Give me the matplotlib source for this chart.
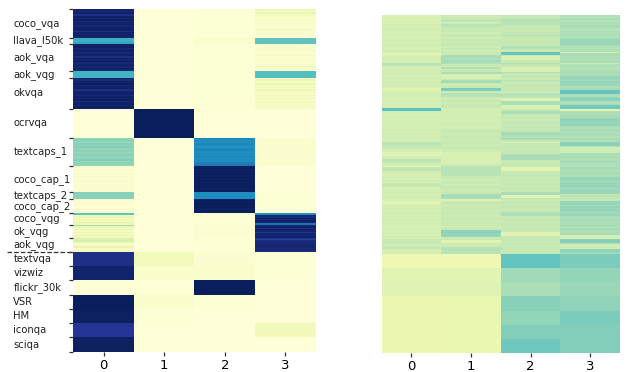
import numpy as np
import matplotlib
matplotlib.use('Agg')
import matplotlib.pyplot as plt
import matplotlib.transforms as mtransforms

# row groups (top: clustered samples, bottom: held-out tasks)
group_names = ['coco_vqa', 'llava_l50k', 'aok_vqa', 'aok_vqg', 'okvqa', 'ocrvqa', 'textcaps_1',
               'coco_cap_1', 'textcaps_2', 'coco_cap_2', 'coco_vqg', 'ok_vqg', 'aok_vqg',
               'textvqa', 'vizwiz', 'flickr_30k', 'VSR', 'HM', 'iconqa', 'sciqa']
group_sizes = [20, 4, 19, 5, 22, 20, 20, 18, 5, 10, 8, 9, 10, 10, 10, 10, 10, 10, 10, 10]
split_row = 170
experts = ['0', '1', '2', '3']

# left heatmap, values in percent, one list per column
left_0 = ([96, 93, 97, 90, 90, 97, 94, 98, 92, 96, 97, 93, 95, 98, 96, 91, 97, 95, 98, 96]
          + [52, 52, 52, 55]
          + [97, 95, 98, 92, 96, 97, 94, 98, 96, 91, 97, 95, 98, 93, 96, 97, 94, 98, 95]
          + [50] * 5
          + [96, 92, 97, 95, 98, 93, 96, 97, 91, 95, 98, 96, 93, 97, 95, 98, 92, 96, 97, 94, 98, 96]
          + [1] * 20
          + [34, 36, 35, 33, 36, 35, 37, 34, 35, 36, 33, 35, 36, 34, 35, 37, 33, 36, 35, 34]
          + [4, 3, 5, 3, 2, 4, 3, 5, 2, 3, 4, 2, 3, 5, 3, 2, 4, 3]
          + [36] * 5
          + [4, 3, 5, 3, 4, 2, 3, 5, 3, 4]
          + [44, 10, 14, 8, 12, 9, 15, 11]
          + [30, 14, 8, 14, 6, 14, 9, 14, 10]
          + [19, 18, 20, 12, 6, 10, 14, 8, 5, 9]
          + [90] * 10 + [96] * 10 + [2] * 10 + [99] * 10 + [98] * 10 + [87] * 10 + [98] * 10)
left_1 = ([1] * 20 + [1] * 4 + [1] * 19 + [1] * 5 + [1] * 22
          + [99] * 20
          + [0] * 20 + [1] * 18 + [0] * 5 + [1] * 10 + [1] * 8 + [0] * 9 + [1] * 10
          + [9] * 10 + [4] * 10 + [1] * 10 + [4] * 10 + [2] * 10 + [1] * 10 + [1] * 10)
left_2 = ([2] * 20 + [4] * 4 + [2] * 19 + [2] * 5 + [2] * 22 + [1] * 20
          + [66, 63, 64, 62, 65, 63, 62, 64, 66, 63, 62, 64, 63, 65, 62, 64, 63, 66, 68, 70]
          + [98, 99, 97, 99, 98, 99, 97, 98, 99, 98, 99, 97, 99, 98, 99, 98, 97, 99]
          + [63] * 5
          + [98, 99, 97, 99, 98, 99, 98, 97, 99, 98]
          + [2] * 8 + [3] * 9 + [2] * 10
          + [3] * 10 + [4] * 10 + [99] * 10 + [2] * 10 + [1] * 10 + [1] * 10 + [1] * 10)
left_3 = ([12, 8, 15, 5, 10, 6, 4, 8, 3, 5, 4, 6, 3, 5, 7, 4, 3, 5, 4, 3]
          + [44] * 4
          + [4, 3, 5, 3, 6, 4, 3, 5, 7, 4, 3, 6, 4, 3, 5, 4, 8, 5, 4]
          + [46] * 5
          + [6, 12, 8, 5, 14, 7, 10, 4, 13, 6, 9, 5, 12, 7, 10, 5, 8, 11, 6, 9, 7, 8]
          + [1] * 20
          + [3, 4, 3, 5, 4, 3, 4, 5, 3, 4, 3, 4, 5, 3, 4, 3, 4, 3, 4, 3]
          + [1] * 18 + [2] * 5 + [2] * 10
          + [62, 95, 92, 96, 93, 97, 94, 70]
          + [94, 97, 90, 99, 95, 88, 96, 93, 97]
          + [86, 84, 92, 95, 93, 96, 94, 92, 95, 93]
          + [2] * 10 + [2] * 10 + [1] * 10 + [1] * 10 + [1] * 10 + [10] * 10 + [1] * 10)

# right heatmap, values in percent, one list per column
right_0 = [19, 19, 20, 17, 21, 20, 22, 21, 20, 21, 22, 21, 20, 21, 22, 21, 20, 22, 21, 20,
           21, 22, 21, 20, 21, 22, 20, 16, 19, 21, 22, 21, 20, 22, 27, 27, 21, 20, 21, 22,
           21, 24, 20, 21, 22, 21, 20, 23, 21, 22, 21, 20, 16, 17, 20, 22, 21, 22, 20, 21,
           22, 21, 20, 22, 21, 22, 45, 44, 22, 21, 20, 21, 22, 21, 20, 22, 21, 22, 21, 20,
           21, 22, 21, 20, 22, 21, 22, 21, 20, 22, 26, 27, 26, 26, 25, 21, 20, 18, 18, 18,
           21, 22, 27, 27, 26, 21, 22, 17, 26, 27, 26, 22, 21, 20, 22, 21, 20, 22, 21, 25,
           26, 25, 21, 20, 22, 21, 22, 20, 21, 22, 21, 20, 16, 16, 20, 22, 21, 22, 21, 20,
           22, 21, 20, 22, 21, 22, 21, 20, 22, 21, 20, 22, 21, 20, 22, 21, 20, 22, 21, 25,
           24, 26, 25, 23, 25, 26, 22, 18, 21, 22] \
    + [12] * 10 + [16] * 10 + [17] * 10 + [13] * 10 + [13] * 10 + [13] * 10 + [13] * 10
right_1 = [24, 23, 25, 29, 24, 23, 28, 28, 24, 25, 24, 25, 23, 24, 25, 24, 23, 25, 24, 24,
           25, 24, 23, 25, 24, 23, 25, 24, 30, 31, 30, 29, 31, 30, 29, 24, 23, 29, 24, 25,
           30, 30, 19, 19, 20, 24, 30, 31, 24, 23, 24, 25, 38, 37, 24, 28, 29, 28, 24, 23,
           24, 25, 23, 24, 25, 24, 23, 22, 21, 22, 21, 22, 23, 21, 22, 21, 22, 23, 22, 21,
           23, 24, 25, 24, 23, 24, 25, 24, 23, 24, 25, 24, 23, 24, 25, 24, 23, 20, 19, 20,
           19, 20, 19, 20, 19, 20, 24, 27, 28, 27, 28, 27, 28, 27, 24, 25, 24, 23, 25, 24,
           23, 24, 25, 24, 23, 24, 25, 30, 31, 30, 30, 18, 24, 25, 24, 23, 24, 25, 24, 23,
           25, 24, 23, 24, 25, 24, 23, 24, 25, 24, 23, 24, 25, 35, 36, 34, 35, 33, 24, 25,
           17, 18, 24, 23, 24, 28, 29, 28, 27, 28] \
    + [12] * 10 + [16] * 10 + [17] * 10 + [14] * 10 + [14] * 10 + [14] * 10 + [14] * 10
right_2 = [25, 24, 28, 29, 28, 28, 27, 25, 24, 25, 24, 25, 26, 24, 29, 25, 24, 25, 26, 24,
           25, 24, 29, 29, 25, 24, 43, 42, 25, 18, 18, 19, 25, 24, 29, 25, 24, 19, 19, 20,
           29, 25, 24, 26, 25, 24, 28, 25, 24, 26, 25, 24, 25, 26, 24, 28, 29, 28, 28, 17,
           18, 29, 30, 29, 19, 19, 19, 25, 30, 30, 25, 24, 26, 25, 24, 25, 26, 24, 25, 26,
           24, 25, 26, 30, 31, 30, 29, 31, 30, 25, 20, 25, 24, 26, 25, 24, 25, 26, 24, 30,
           31, 30, 30, 25, 24, 26, 25, 24, 16, 17, 16, 25, 24, 26, 25, 24, 25, 26, 24, 25,
           26, 24, 25, 26, 24, 25, 30, 31, 17, 18, 25, 24, 26, 25, 24, 25, 26, 24, 25, 26,
           29, 30, 29, 25, 24, 26, 25, 24, 25, 26, 24, 25, 26, 25, 16, 17, 16, 25, 24, 26,
           25, 24, 26, 25, 24, 25, 26, 24, 25, 26] \
    + [43] * 10 + [32] * 10 + [30] * 10 + [36] * 10 + [34] * 10 + [37] * 10 + [41] * 10
right_3 = [29, 28, 30, 29, 28, 30, 29, 31, 30, 29, 28, 30, 29, 31, 30, 29, 30, 33, 34, 33,
           33, 30, 29, 28, 30, 29, 21, 30, 31, 29, 30, 29, 30, 31, 23, 29, 30, 28, 29, 30,
           31, 29, 30, 33, 34, 33, 32, 34, 33, 33, 30, 29, 31, 42, 43, 42, 30, 29, 35, 36,
           35, 30, 29, 31, 40, 41, 39, 17, 29, 30, 29, 31, 30, 34, 35, 34, 33, 35, 34, 30,
           29, 31, 30, 29, 30, 31, 29, 30, 31, 29, 35, 36, 35, 30, 22, 23, 22, 23, 30, 29,
           31, 30, 29, 30, 31, 29, 30, 29, 31, 30, 29, 30, 31, 29, 30, 33, 34, 33, 32, 34,
           33, 34, 33, 32, 34, 33, 33, 26, 27, 26, 25, 26, 33, 34, 33, 32, 34, 33, 34, 33,
           32, 34, 33, 30, 29, 31, 30, 29, 30, 31, 29, 30, 31, 29, 30, 31, 20, 20, 20, 36,
           37, 36, 30, 23, 22, 23, 34, 35, 34, 30] \
    + [38] * 10 + [34] * 10 + [33] * 10 + [35] * 10 + [38] * 10 + [37] * 10 + [37] * 10

tick_color = '#333333'


def draw_heatmap(ax, columns):
    mat = np.array(columns, dtype=float).T / 100.0
    n_rows, n_cols = mat.shape
    ax.pcolormesh(np.arange(n_cols + 1), np.arange(n_rows + 1), mat, cmap='YlGnBu',
                  vmin=0, vmax=1, antialiased=False, linewidth=0, rasterized=True)
    ax.set_xlim(0, n_cols)
    ax.set_ylim(n_rows, 0)
    ax.set_xticks(np.arange(n_cols) + 0.5)
    ax.set_xticklabels(experts)
    ax.tick_params(axis='x', length=2.6, width=0.9, color=tick_color, pad=2.5, labelsize=9.5)
    for s in ax.spines.values():
        s.set_visible(False)


fig = plt.figure(figsize=(6.4, 3.72), dpi=100)
ax_l = fig.add_axes([0.1145, 0.0546, 0.3788, 0.9204])
ax_r = fig.add_axes([0.5964, 0.0519, 0.3723, 0.907])

draw_heatmap(ax_l, [left_0, left_1, left_2, left_3])
draw_heatmap(ax_r, [right_0, right_1, right_2, right_3])

# group boundaries as ticks, group names as text at the group centres
bounds = np.concatenate([[0], np.cumsum(group_sizes)])
centers = (bounds[:-1] + bounds[1:]) / 2
ax_l.set_yticks(bounds)
ax_l.set_yticklabels([])
ax_l.tick_params(axis='y', length=2.6, width=0.9, color=tick_color)
ax_r.set_yticks([])

trans = mtransforms.blended_transform_factory(fig.transFigure, ax_l.transData)
for name, c in zip(group_names, centers):
    ax_l.text(13.3 / 640, c, name, transform=trans, ha='left', va='center',
              fontsize=7.2, color='#222222')

ax_l.plot([7.3 / 640, 73.3 / 640], [split_row, split_row], transform=trans,
          ls='--', lw=0.9, color='#333333', clip_on=False)

fig.savefig('out.png', dpi=100)
